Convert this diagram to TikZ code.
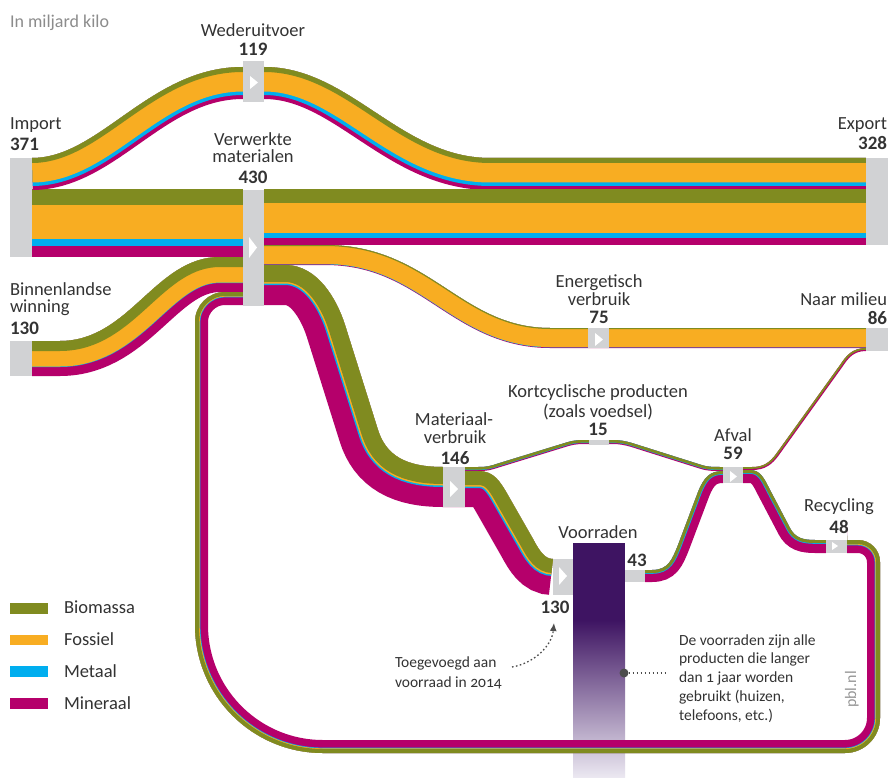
\documentclass[tikz,border=0pt]{standalone}
\usepackage{fontspec}
\setmainfont{Carlito}
\usetikzlibrary{arrows.meta}
\definecolor{bio}{RGB}{128,139,32}
\definecolor{fos}{RGB}{248,173,34}
\definecolor{met}{RGB}{0,174,239}
\definecolor{mnr}{RGB}{181,0,107}
\definecolor{nodegrey}{RGB}{209,210,212}
\definecolor{txt}{RGB}{51,51,51}
\definecolor{subgrey}{RGB}{140,140,140}
\definecolor{vdark}{RGB}{62,20,98}
\definecolor{vlight}{RGB}{236,233,242}
\definecolor{annotgrey}{RGB}{77,77,77}

% #1 left edge path, #2 closing of the clip region, #3 colour/cumulative width (widest first)
\newcommand\flowband[3]{%
  \begin{scope}
    \clip #1 #2;
    \foreach \cc/\ww in {#3}{\draw[draw=\cc,line width=2*\ww] #1;}
  \end{scope}}

\begin{document}
\begin{tikzpicture}[x=1pt,y=-1pt,
  gbox/.style={fill=nodegrey,draw=none,inner sep=0pt,outer sep=0pt,anchor=north west},
  tri/.style={fill=white,draw=none},
  lbl/.style={inner sep=0pt,outer sep=0pt,anchor=base,text=txt,font=\fontsize{18.5}{20}\selectfont},
  num/.style={lbl,font=\bfseries\fontsize{19}{20}\selectfont},
  note/.style={inner sep=0pt,outer sep=0pt,anchor=base west,text=txt,font=\fontsize{15.5}{18}\selectfont},
  annot/.style={draw=annotgrey,line width=1.3pt,dash pattern=on 1.6pt off 2.4pt},
  swatch/.style={inner sep=0pt,outer sep=0pt,minimum width=38pt,minimum height=10.5pt,anchor=north west}]
\useasboundingbox (0,0) rectangle (888,778);
\fill[white] (0,0) rectangle (888,778);

% ---------- flow paths (left edge of each flow, in the direction of flow) ----------
\def\pA{(32,158) .. controls (100,158) and (150,67) .. (243,67) -- (264,67) .. controls (350,67) and (400,158) .. (490,158) -- (866,158)}
\def\pB{(32,190) -- (243,190)}
\def\pC{(264,190) -- (866,190)}
\def\pD{(264,245) -- (325,245) .. controls (430,245) and (460,328) .. (550,328) -- (866,328)}
\def\pE{(264,265) -- (285,265) .. controls (318,265) and (337,300) .. (345,325) -- (378,430) .. controls (386,455) and (405,467) .. (443,467) -- (465,467)}
\def\pF{(465,467) -- (478,467) .. controls (488,467) and (490,466) .. (498,463.5) -- (568,442) .. controls (575,440) and (580,440) .. (589,440) -- (612,440) .. controls (620,440) and (625,441) .. (632,443) -- (700,464.5) .. controls (707,467) and (712,467) .. (723,467)}
\def\pG{(465,471) -- (478,471) .. controls (494,471) and (500,481) .. (509,497) -- (533,539) .. controls (540,552) and (545,559) .. (553,559)}
\def\pH{(645,570) -- (652,570) .. controls (668,570) and (672,560) .. (678,545) -- (698,492) .. controls (704,477) and (710,471) .. (723,471)}
\def\pI{(743,467) -- (752,467) .. controls (764,467) and (770,462) .. (776,454) -- (840,365) .. controls (846,356) and (852,348) .. (866,348)}
\def\pJ{(743,470) -- (750,470) .. controls (760,470) and (764,478) .. (769,488) -- (790,528) .. controls (795.25,538) and (803,540) .. (815,540) -- (826,540)}
\def\pK{(32,341) -- (60,341) .. controls (130,341) and (155,257) .. (220,257) -- (243,257)}
\def\pL{(847,540) -- (858,540) .. controls (870.15,540) and (880,549.85) .. (880,562) -- (880,718) .. controls (880,737.33) and (864.33,753) .. (845,753) -- (323,753) .. controls (252.3,753) and (195,695.7) .. (195,625) -- (195,322) .. controls (195,305.43) and (208.43,292) .. (225,292) -- (243,292)}

% ---------- flows ----------
\flowband{\pK}{-- (243,800) -- (32,800) -- cycle}{mnr/35,met/26,fos/25.5,bio/10}
\flowband{\pB}{-- (243,800) -- (32,800) -- cycle}{mnr/67,met/56,fos/49,bio/15}
\flowband{\pA}{-- (866,800) -- (32,800) -- cycle}{mnr/32,met/28,fos/24.5,bio/5}
\flowband{\pC}{-- (866,800) -- (264,800) -- cycle}{mnr/55,met/48,fos/43,bio/13}
\flowband{\pD}{-- (866,800) -- (264,800) -- cycle}{mnr/20,met/19.4,fos/19,bio/1}
\flowband{\pE}{-- (465,800) -- (264,800) -- cycle}{mnr/40,met/20,fos/18.5,bio/17}
\flowband{\pF}{-- (723,800) -- (465,800) -- cycle}{mnr/4,met/3,bio/2.6}
\flowband{\pG}{-- (553,800) -- (465,800) -- cycle}{mnr/36,met/17,fos/15.5,bio/14}
\flowband{\pH}{-- (723,800) -- (645,800) -- cycle}{mnr/12,met/3.8,bio/3}
\flowband{\pI}{-- (866,800) -- (743,800) -- cycle}{mnr/3,bio/1.8}
\flowband{\pJ}{-- (826,800) -- (743,800) -- cycle}{mnr/13,met/3.8,bio/3}

% ---------- stock (Voorraden) ----------
\fill[vdark] (573,543) rectangle (625,622);
\shade[top color=vdark,bottom color=vlight] (573,620) rectangle (625,778);
\coordinate (stock) at (599,543);

% recycling loop passes over the stock bar
\flowband{\pL}{-- (847,292) -- cycle}{mnr/13,met/5.4,fos/4.7,bio/4}

% ---------- grey nodes ----------
\node[gbox,minimum width=22pt,minimum height=99pt] (import) at (10,158) {};
\node[gbox,minimum width=22pt,minimum height=87pt] (export) at (866,158) {};
\node[gbox,minimum width=21pt,minimum height=41pt] (weder) at (243,61) {};
\node[gbox,minimum width=21pt,minimum height=116pt] (verwerkt) at (243,190) {};
\node[gbox,minimum width=22pt,minimum height=35pt] (winning) at (10,341) {};
\node[gbox,minimum width=21pt,minimum height=20pt] (energ) at (588,328) {};
\node[gbox,minimum width=22pt,minimum height=23pt] (milieu) at (866,328) {};
\node[gbox,minimum width=20pt,minimum height=4.5pt] (kort) at (589,440) {};
\node[gbox,minimum width=22pt,minimum height=40pt] (materiaal) at (443,467) {};
\node[gbox,minimum width=20pt,minimum height=36pt] (voorin) at (553,559) {};
\node[gbox,minimum width=20pt,minimum height=12pt] (voorout) at (625,570) {};
\node[gbox,minimum width=20pt,minimum height=16pt] (afval) at (723,467) {};
\node[gbox,minimum width=21pt,minimum height=13pt] (recyc) at (826,540) {};

% white direction triangles
\fill[tri] (250,76) -- (258,82.5) -- (250,89) -- cycle;
\fill[tri] (249,237) -- (257,247.5) -- (249,258) -- cycle;
\fill[tri] (595,333) -- (603,339.5) -- (595,346) -- cycle;
\fill[tri] (450,481) -- (458,489) -- (450,497) -- cycle;
\fill[tri] (559,567) -- (567,576) -- (559,585) -- cycle;
\fill[tri] (730,471) -- (737,476.5) -- (730,482) -- cycle;
\fill[tri] (832,542) -- (838,546) -- (832,550) -- cycle;

% ---------- labels ----------
\node[lbl,anchor=base west,text=subgrey,font=\fontsize{18}{20}\selectfont] (unit) at (10,28) {In miljard kilo};

\node[lbl] (lweder) at (253,37) {Wederuitvoer};
\node[num] (nweder) at (253,56) {119};

\node[lbl,anchor=base west] (limport) at (10,130) {Import};
\node[num,anchor=base west] (nimport) at (10,151) {371};

\node[lbl] (lverw1) at (253,146) {Verwerkte};
\node[lbl] (lverw2) at (253,163) {materialen};
\node[num] (nverw) at (253,183) {430};

\node[lbl,anchor=base east] (lexport) at (887,130) {Export};
\node[num,anchor=base east] (nexport) at (887,150) {328};

\node[lbl,anchor=base west] (lwin1) at (10,295) {Binnenlandse};
\node[lbl,anchor=base west] (lwin2) at (10,312) {winning};
\node[num,anchor=base west] (nwin) at (10,334) {130};

\node[lbl] (lenerg1) at (599,287) {Energetisch};
\node[lbl] (lenerg2) at (599,305) {verbruik};
\node[num] (nenerg) at (599,323) {75};

\node[lbl,anchor=base east] (lmilieu) at (887,305) {Naar milieu};
\node[num,anchor=base east] (nmilieu) at (887,324) {86};

\node[lbl] (lkort1) at (598,397) {Kortcyclische producten};
\node[lbl] (lkort2) at (598,417) {(zoals voedsel)};
\node[num] (nkort) at (598,435) {15};

\node[lbl] (lmat1) at (454,425) {Materiaal-};
\node[lbl] (lmat2) at (455,443) {verbruik};
\node[num] (nmat) at (455,464) {146};

\node[lbl] (lafval) at (733,441) {Afval};
\node[num] (nafval) at (733,459) {59};

\node[lbl] (lvoor) at (598,538) {Voorraden};
\node[num] (nvoorout) at (637,566) {43};
\node[num] (nvoorin) at (555,613) {130};

\node[lbl] (lrecyc) at (839,511) {Recycling};
\node[num] (nrecyc) at (839,533) {48};

% legend
\node[swatch,fill=bio] (sbio) at (10,603) {};
\node[swatch,fill=fos] (sfos) at (10,634.5) {};
\node[swatch,fill=met] (smet) at (10,666) {};
\node[swatch,fill=mnr] (smnr) at (10,698) {};
\node[lbl,anchor=base west] (tbio) at (64,613) {Biomassa};
\node[lbl,anchor=base west] (tfos) at (64,645) {Fossiel};
\node[lbl,anchor=base west] (tmet) at (64,677) {Metaal};
\node[lbl,anchor=base west] (tmnr) at (64,709) {Mineraal};

% annotations
\node[note] (toeg1) at (395,667) {Toegevoegd aan};
\node[note] (toeg2) at (395,687) {voorraad in {\addfontfeatures{Numbers=OldStyle}2014}};
\coordinate (arrS) at (512,667);
\coordinate (arrE) at (554,623);
\draw[annot,-{Latex[length=8pt,width=7pt]}] (arrS) .. controls (535,663) and (552,645) .. (arrE);

\node[note] (vr1) at (679,645) {De voorraden zijn alle};
\node[note] (vr2) at (679,663.5) {producten die langer};
\node[note] (vr3) at (679,682) {dan {\addfontfeatures{Numbers=OldStyle}1} jaar worden};
\node[note] (vr4) at (679,701) {gebruikt (huizen,};
\node[note] (vr5) at (679,720) {telefoons, etc.)};
\node[circle,fill=annotgrey,inner sep=0pt,minimum size=9pt] (dot) at (624,673) {};
\coordinate (dotE) at (668,673);
\draw[annot] (dot) -- (dotE);

\node[inner sep=0pt,anchor=base west,rotate=90,text={rgb,255:red,150;green,150;blue,150},font=\fontsize{16}{18}\selectfont] (pbl) at (856,708) {pbl.nl};
\end{tikzpicture}
\end{document}
